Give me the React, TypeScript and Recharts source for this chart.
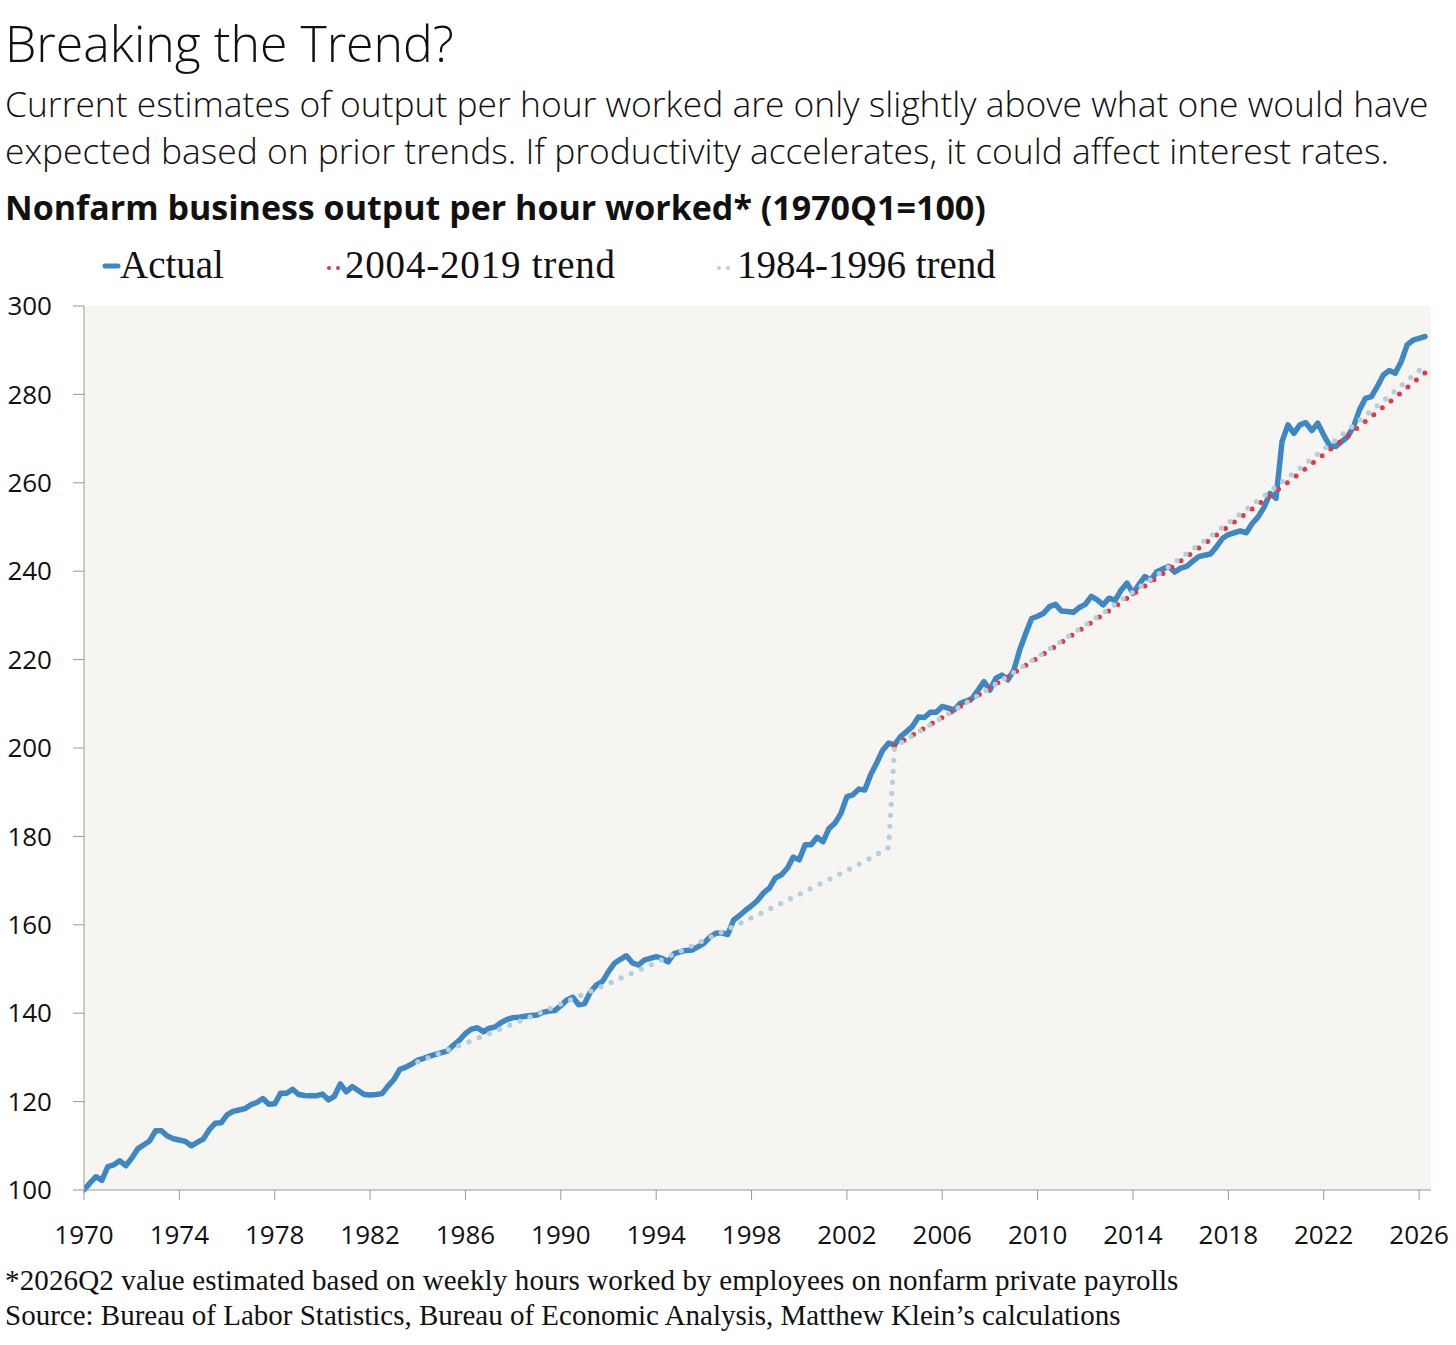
import { LineChart, Line, XAxis, YAxis, CartesianGrid } from 'recharts';

// Nonfarm business output per hour worked, quarterly from 1970Q1 (=100)
const START_YEAR = 1970;
const actualValues = [
  100.0, 101.6, 103.0, 102.2, // 1970
  105.3, 105.7, 106.6, 105.5, // 1971
  107.2, 109.3, 110.2, 111.1, // 1972
  113.4, 113.4, 112.2, 111.6, // 1973
  111.3, 111.0, 110.0, 110.8, // 1974
  111.5, 113.6, 115.1, 115.2, // 1975
  117.0, 117.8, 118.1, 118.4, // 1976
  119.3, 119.8, 120.7, 119.4, // 1977
  119.5, 121.9, 121.9, 122.8, // 1978
  121.6, 121.4, 121.3, 121.3, // 1979
  121.7, 120.4, 121.2, 124.0, // 1980
  122.2, 123.4, 122.5, 121.6, // 1981
  121.5, 121.6, 121.8, 123.5, // 1982
  125.0, 127.3, 127.8, 128.5, // 1983
  129.4, 129.8, 130.3, 130.7, // 1984
  131.1, 131.5, 132.8, 133.9, // 1985
  135.4, 136.4, 136.7, 135.8, // 1986
  136.6, 136.9, 137.9, 138.6, // 1987
  139.0, 139.1, 139.3, 139.5, // 1988
  139.6, 140.2, 140.5, 140.6, // 1989
  141.7, 143.0, 143.6, 141.9, // 1990
  142.2, 144.9, 146.4, 147.2, // 1991
  149.4, 151.3, 152.2, 153.0, // 1992
  151.4, 150.9, 152.0, 152.4, // 1993
  152.8, 152.4, 151.6, 153.5, // 1994
  153.9, 154.2, 154.3, 155.0, // 1995
  155.8, 157.2, 158.1, 158.2, // 1996
  157.8, 161.1, 162.1, 163.3, // 1997
  164.3, 165.5, 167.2, 168.3, // 1998
  170.6, 171.3, 172.8, 175.3, // 1999
  174.7, 178.1, 178.1, 179.8, // 2000
  178.8, 181.8, 183.0, 185.2, // 2001
  189.0, 189.4, 190.7, 190.5, // 2002
  194.0, 196.6, 199.5, 201.1, // 2003
  200.7, 202.6, 203.7, 204.9, // 2004
  207.0, 206.9, 208.1, 208.1, // 2005
  209.4, 209.0, 208.6, 210.1, // 2006
  210.6, 211.2, 213.1, 215.0, // 2007
  213.1, 215.8, 216.5, 215.4, // 2008
  217.6, 222.2, 225.9, 229.3, // 2009
  229.8, 230.5, 232.0, 232.5, // 2010
  231.0, 230.9, 230.7, 231.8, // 2011
  232.5, 234.3, 233.5, 232.4, // 2012
  233.9, 233.4, 235.7, 237.3, // 2013
  235.0, 237.0, 238.8, 238.0, // 2014
  239.9, 240.5, 241.1, 239.8, // 2015
  240.7, 241.1, 242.2, 243.3, // 2016
  243.6, 243.9, 245.5, 247.4, // 2017
  248.3, 248.7, 249.1, 248.7, // 2018
  250.8, 252.3, 254.5, 257.6, // 2019
  256.5, 269.3, 273.1, 271.2, // 2020
  273.1, 273.6, 271.8, 273.5, // 2021
  270.8, 268.4, 268.2, 269.3, // 2022
  270.4, 272.7, 276.5, 279.1, // 2023
  279.5, 281.8, 284.4, 285.4, // 2024
  284.8, 287.4, 291.2, 292.3, // 2025
  292.7, 293.1, // 2026
];

// 1984-1996 trend, re-based in 2004
const trend8496Years = [
  1984, 1985, 1986, 1987, 1988, 1989, 1990, 1991, 1992, 1993, 1994, 1995,
  1996, 1997, 1998, 1999, 2000, 2001, 2002, 2003, 2003.75,
  2004, 2005, 2006, 2007, 2008, 2009, 2010, 2011, 2012, 2013, 2014, 2015,
  2016, 2017, 2018, 2019, 2020, 2021, 2022, 2023, 2024, 2025, 2026, 2026.25,
];
const trend8496Values = [
  129.0, 131.1, 133.2, 135.4, 137.6, 139.8, 142.1, 144.4, 146.7, 149.1, 151.5, 154.0,
  156.5, 159.0, 161.6, 164.2, 166.9, 169.6, 172.3, 175.1, 177.5,
  200.3, 203.6, 206.9, 210.2, 213.6, 217.1, 220.6, 224.2, 227.8, 231.5, 235.3, 239.1,
  243.0, 246.9, 250.9, 255.0, 259.1, 263.3, 267.6, 271.9, 276.3, 280.8, 285.4, 286.5,
];

// 2004-2019 trend
const trend0419Years = [
  2004, 2005, 2006, 2007, 2008, 2009, 2010, 2011, 2012, 2013, 2014, 2015,
  2016, 2017, 2018, 2019, 2020, 2021, 2022, 2023, 2024, 2025, 2026, 2026.25,
];
const trend0419Values = [
  200.5, 203.7, 206.9, 210.2, 213.6, 217.0, 220.4, 223.9, 227.5, 231.1, 234.8, 238.5,
  242.3, 246.2, 250.1, 254.1, 258.1, 262.2, 266.4, 270.6, 275.0, 279.3, 283.8, 284.9,
];

const yearTicks = [1970, 1974, 1978, 1982, 1986, 1990, 1994, 1998, 2002, 2006, 2010, 2014, 2018, 2022, 2026];
const valueTicks = [100, 120, 140, 160, 180, 200, 220, 240, 260, 280, 300];

const actualData = actualValues.map((v, i) => ({ t: START_YEAR + i / 4, v }));
const trend8496Data = trend8496Years.map((t, i) => ({ t, v: trend8496Values[i] }));
const trend0419Data = trend0419Years.map((t, i) => ({ t, v: trend0419Values[i] }));

const BLUE = '#3d88c4';
const RED = '#e8383d';
const LIGHT_BLUE = '#b3cfe0';
const SANS = '"Open Sans", sans-serif';
const SERIF = '"Liberation Serif", serif';

const tickStyle = { fontFamily: SANS, fontSize: 26, fill: '#111' };

const text = (top: number, size: number, extra: object = {}) => ({
  position: 'absolute' as const,
  left: 5,
  top,
  fontSize: size,
  lineHeight: `${size}px`,
  whiteSpace: 'nowrap' as const,
  color: '#111',
  ...extra,
});

const App = () => {
  return (
    <div style={{ position: 'absolute', left: 0, top: 0, width: 1456, height: 1345, background: '#fff' }}>
      <LineChart
        width={1456}
        height={1345}
        margin={{ top: 306, right: 25, bottom: 95, left: 0 }}
      >
        <CartesianGrid horizontal={false} vertical={false} fill="#f6f5f1" stroke="none" />
        <XAxis
          dataKey="t"
          type="number"
          domain={[1970, 2026.5]}
          ticks={yearTicks}
          interval={0}
          allowDataOverflow
          height={60}
          tickSize={10}
          tickMargin={26}
          stroke="#999"
          tick={tickStyle}
        />
        <YAxis
          type="number"
          domain={[100, 300]}
          ticks={valueTicks}
          interval={0}
          width={84}
          tickSize={11}
          tickMargin={21}
          stroke="#999"
          tick={tickStyle}
        />
        <Line
          data={actualData}
          dataKey="v"
          stroke={BLUE}
          strokeWidth={5.5}
          strokeLinejoin="round"
          strokeLinecap="round"
          dot={false}
          activeDot={false}
          isAnimationActive={false}
        />
        <Line
          data={trend0419Data}
          dataKey="v"
          stroke={RED}
          strokeWidth={5}
          strokeDasharray="0 11"
          strokeLinecap="round"
          dot={false}
          activeDot={false}
          isAnimationActive={false}
        />
        <Line
          data={trend8496Data}
          dataKey="v"
          stroke={LIGHT_BLUE}
          strokeWidth={5.2}
          strokeDasharray="0 11"
          strokeLinecap="round"
          dot={false}
          activeDot={false}
          isAnimationActive={false}
        />
      </LineChart>

      <div style={text(18, 50, { fontFamily: SANS, fontWeight: 300 })}>Breaking the Trend?</div>
      <div style={text(86, 35.4, { fontFamily: SANS, fontWeight: 300 })}>
        Current estimates of output per hour worked are only slightly above what one would have
      </div>
      <div style={text(133, 35.4, { fontFamily: SANS, fontWeight: 300 })}>
        expected based on prior trends. If productivity accelerates, it could affect interest rates.
      </div>
      <div style={text(190, 34, { fontFamily: SANS, fontWeight: 700 })}>
        Nonfarm business output per hour worked* (1970Q1=100)
      </div>

      {/* legend */}
      <svg style={{ position: 'absolute', left: 0, top: 250, width: 1456, height: 40 }}>
        <line x1={105} y1={16} x2={118} y2={16} stroke={BLUE} strokeWidth={5} strokeLinecap="round" />
        <line x1={329} y1={18} x2={340} y2={18} stroke={RED} strokeWidth={4} strokeDasharray="0 9" strokeLinecap="round" />
        <line x1={719} y1={18} x2={730} y2={18} stroke={LIGHT_BLUE} strokeWidth={4} strokeDasharray="0 9" strokeLinecap="round" />
      </svg>
      <div style={text(245, 39, { left: 120, fontFamily: SERIF })}>Actual</div>
      <div style={text(245, 39, { left: 345, fontFamily: SERIF, letterSpacing: 0.8 })}>2004-2019 trend</div>
      <div style={text(245, 39, { left: 737, fontFamily: SERIF })}>1984-1996 trend</div>

      <div style={text(1266, 29, { fontFamily: SERIF, letterSpacing: 0.14 })}>
        *2026Q2 value estimated based on weekly hours worked by employees on nonfarm private payrolls
      </div>
      <div style={text(1301, 29, { fontFamily: SERIF })}>
        Source: Bureau of Labor Statistics, Bureau of Economic Analysis, Matthew Klein’s calculations
      </div>
    </div>
  );
};

export default App;
